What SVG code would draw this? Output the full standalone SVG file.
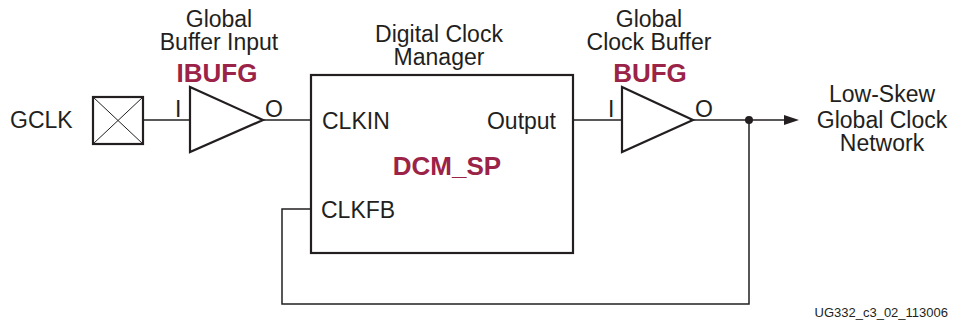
<svg xmlns="http://www.w3.org/2000/svg" width="955" height="322" viewBox="0 0 955 322">
<style>
text{font-family:"Liberation Sans",Arial,sans-serif;fill:#231f20;font-size:23px}
.b{font-weight:bold;fill:#9b2348;font-size:26px}
.m{text-anchor:middle}
.w{fill:none;stroke:#231f20;stroke-width:1.5}
.s{fill:#fff;stroke:#231f20;stroke-width:2.2;stroke-linejoin:miter}
.small{font-size:13px}
</style>
<rect width="955" height="322" fill="#fff"/>
<g id="connectors">
<line class="w" x1="143" y1="120" x2="190" y2="120"/>
<line class="w" x1="263" y1="120" x2="312" y2="120"/>
<line class="w" x1="573" y1="120" x2="622" y2="120"/>
<line class="w" x1="693" y1="120" x2="786" y2="120"/>
<polygon points="799,120 784,115 784,125" fill="#231f20"/>
<polyline class="w" points="749,120 749,304 282,304 282,209 312,209"/>
<circle cx="749" cy="120" r="4" fill="#231f20"/>
</g>
<g id="gclk">
<text x="10" y="128">GCLK</text>
<rect x="93" y="97" width="50" height="47" class="s"/>
<line x1="93" y1="97" x2="143" y2="144" stroke="#231f20" stroke-width="1"/>
<line x1="143" y1="97" x2="93" y2="144" stroke="#231f20" stroke-width="1"/>
</g>
<g id="ibufg">
<text class="m" x="219" y="27">Global</text>
<text class="m" x="219" y="50">Buffer Input</text>
<text class="b m" x="217" y="82">IBUFG</text>
<polygon class="s" points="190,87 190,152 263,120"/>
<text x="175" y="117">I</text>
<text x="265" y="117">O</text>
</g>
<g id="dcm">
<text class="m" x="439" y="42">Digital Clock</text>
<text class="m" x="439" y="65">Manager</text>
<rect class="s" x="311" y="75" width="262" height="178" stroke-width="2.6"/>
<text x="322" y="129">CLKIN</text>
<text x="556" y="129" text-anchor="end">Output</text>
<text class="b m" x="447" y="175">DCM_SP</text>
<text x="321" y="218">CLKFB</text>
</g>
<g id="bufg">
<text class="m" x="649" y="27">Global</text>
<text class="m" x="649" y="50">Clock Buffer</text>
<text class="b m" x="650" y="82">BUFG</text>
<polygon class="s" points="622,87 622,152 693,120"/>
<text x="608" y="117">I</text>
<text x="695" y="117">O</text>
</g>
<g id="network">
<text class="m" x="882" y="102">Low-Skew</text>
<text class="m" x="882" y="128">Global Clock</text>
<text class="m" x="882" y="151">Network</text>
</g>
<text class="small" x="948" y="317" text-anchor="end">UG332_c3_02_113006</text>
</svg>
